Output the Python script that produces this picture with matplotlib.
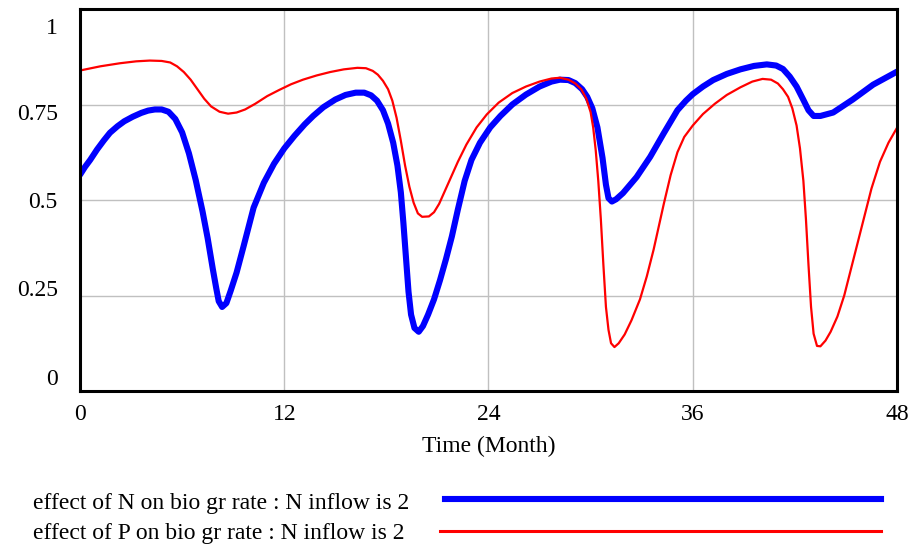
import matplotlib
matplotlib.use("Agg")
import matplotlib.pyplot as plt
from matplotlib.lines import Line2D
from matplotlib.transforms import ScaledTranslation

# effect of N on bio gr rate : N inflow is 2
t_n = [0, 0.3, 0.6, 1.0, 1.4, 1.76, 2.2, 2.6, 3.1, 3.6, 4.0, 4.4, 4.8, 5.2,
       5.6, 6.0, 6.4, 6.8, 7.2, 7.5, 7.8, 8.0, 8.15, 8.35, 8.6, 8.85, 9.2, 9.6,
       10.2, 10.8, 11.4, 12.0, 12.6, 13.2, 13.7, 14.3, 15.0, 15.6, 16.2, 16.7,
       17.1, 17.45, 17.8, 18.1, 18.4, 18.65, 18.85, 19.0, 19.15, 19.3, 19.45,
       19.65, 19.9, 20.15, 20.45, 20.8, 21.15, 21.5, 21.85, 22.2, 22.6, 23.0,
       23.5, 24.1, 24.7, 25.4, 26.2, 27.0, 27.7, 28.2, 28.7, 29.1, 29.5, 29.8,
       30.1, 30.4, 30.7, 30.9, 31.05, 31.25, 31.5, 31.9, 32.7, 33.5, 34.3, 35.1,
       35.6, 36.0, 36.6, 37.2, 38.0, 38.8, 39.6, 40.35, 40.9, 41.3, 41.7, 42.1,
       42.5, 42.8, 43.1, 43.5, 44.25, 45.4, 46.6, 48]
effect_n = [0.566, 0.587, 0.605, 0.632, 0.656, 0.676, 0.693, 0.706, 0.718, 0.728,
            0.734, 0.737, 0.737, 0.731, 0.712, 0.677, 0.622, 0.552, 0.47, 0.40,
            0.32, 0.27, 0.235, 0.22, 0.23, 0.262, 0.31, 0.377, 0.48, 0.545, 0.595,
            0.635, 0.668, 0.698, 0.72, 0.743, 0.763, 0.775, 0.781, 0.781, 0.774,
            0.76, 0.735, 0.70, 0.65, 0.59, 0.52, 0.44, 0.35, 0.26, 0.20, 0.165,
            0.155, 0.17, 0.20, 0.24, 0.29, 0.345, 0.405, 0.475, 0.55, 0.605, 0.65,
            0.69, 0.72, 0.75, 0.776, 0.797, 0.81, 0.815, 0.814, 0.806, 0.79, 0.77,
            0.74, 0.69, 0.61, 0.54, 0.505, 0.496, 0.502, 0.518, 0.56, 0.613, 0.675,
            0.735, 0.76, 0.777, 0.797, 0.814, 0.83, 0.842, 0.851, 0.855, 0.852,
            0.843, 0.823, 0.797, 0.762, 0.735, 0.72, 0.72, 0.729, 0.763, 0.802,
            0.836]

# effect of P on bio gr rate : N inflow is 2
t_p = [0, 1.2, 2.35, 3.3, 4.1, 4.8, 5.3, 5.7, 6.1, 6.5, 6.9, 7.3, 7.7, 8.2, 8.7,
       9.2, 9.7, 10.3, 11.0, 11.7, 12.4, 13.1, 13.9, 14.7, 15.5, 16.3, 16.8,
       17.2, 17.5, 17.8, 18.1, 18.35, 18.6, 18.85, 19.1, 19.35, 19.6, 19.85,
       20.1, 20.5, 20.8, 21.1, 21.4, 21.8, 22.2, 22.7, 23.3, 23.9, 24.6, 25.4,
       26.2, 27.0, 27.7, 28.2, 28.7, 29.1, 29.45, 29.75, 30.0, 30.15, 30.3,
       30.45, 30.6, 30.75, 30.9, 31.05, 31.2, 31.4, 31.65, 32.0, 32.4, 32.9,
       33.3, 33.7, 34.0, 34.3, 34.7, 35.1, 35.5, 36.0, 36.6, 37.3, 38.0, 38.8,
       39.5, 40.1, 40.6, 41.0, 41.3, 41.6, 41.85, 42.1, 42.3, 42.5, 42.65, 42.8,
       42.95, 43.1, 43.3, 43.5, 43.8, 44.1, 44.5, 44.9, 45.3, 45.7, 46.1, 46.5,
       47.0, 47.5, 48]
effect_p = [0.839, 0.85, 0.858, 0.863, 0.865, 0.864, 0.86, 0.85, 0.835, 0.815,
            0.79, 0.765, 0.745, 0.731, 0.726, 0.729, 0.737, 0.752, 0.772, 0.788,
            0.803, 0.815, 0.826, 0.835, 0.842, 0.846, 0.845, 0.838, 0.828, 0.812,
            0.79, 0.76, 0.715, 0.655, 0.59, 0.535, 0.493, 0.465, 0.456, 0.457,
            0.468, 0.49, 0.52, 0.56, 0.60, 0.645, 0.69, 0.724, 0.755, 0.78, 0.797,
            0.81, 0.818, 0.82, 0.815, 0.805, 0.79, 0.765, 0.73, 0.69, 0.63, 0.55,
            0.45, 0.33, 0.22, 0.16, 0.125, 0.115, 0.125, 0.148, 0.185, 0.24, 0.30,
            0.37, 0.43, 0.49, 0.565, 0.625, 0.665, 0.695, 0.725, 0.752, 0.775,
            0.795, 0.81, 0.817, 0.815, 0.805, 0.79, 0.77, 0.74, 0.695, 0.635, 0.55,
            0.45, 0.33, 0.22, 0.15, 0.118, 0.117, 0.132, 0.155, 0.195, 0.25, 0.32,
            0.39, 0.46, 0.53, 0.60, 0.65, 0.689]

series_labels = ["effect of N on bio gr rate : N inflow is 2",
                 "effect of P on bio gr rate : N inflow is 2"]

x_ticks = [0, 12, 24, 36, 48]
y_ticks = [0, 0.25, 0.5, 0.75, 1]
y_tick_labels = ["0", "0.25", "0.5", "0.75", "1"]
# Vensim spreads the y labels evenly, so nudge each one (pixels, + = down)
y_label_shift = [-14, -8, 0, 7, 17]

BLUE = "#0000ff"
RED = "#ff0000"

plt.rcParams["font.family"] = ["Liberation Serif", "DejaVu Serif"]
plt.rcParams["font.size"] = 17

W, H = 912, 546
fig = plt.figure(figsize=(W / 100, H / 100), dpi=100)
ax = fig.add_axes([80 / W, 1 - 391 / H, 817 / W, 382 / H])

ax.plot(t_n, effect_n, color=BLUE, linewidth=4.4,
        solid_joinstyle="round", solid_capstyle="round")
ax.plot(t_p, effect_p, color=RED, linewidth=1.6, solid_joinstyle="round")

ax.set_xlim(0, 48)
ax.set_ylim(0, 1)
ax.set_xticks(x_ticks)
ax.set_yticks(y_ticks)
ax.set_yticklabels(y_tick_labels)
ax.tick_params(length=0)
ax.tick_params(axis="y", pad=16)
ax.tick_params(axis="x", pad=9)
ax.grid(color="#c0c0c0", linewidth=1.0)
ax.set_axisbelow(True)
for sp in ax.spines.values():
    sp.set_linewidth(2.2)
    sp.set_color("black")

for lab, dy in zip(ax.get_yticklabels(), y_label_shift):
    lab.set_transform(lab.get_transform() +
                      ScaledTranslation(0, -dy / 100, fig.dpi_scale_trans))

ax.set_xlabel("Time (Month)", labelpad=8)

# legend, drawn the way Vensim lays it out: label then a long swatch
legend_rows = [(series_labels[0], BLUE, 4.4, 509, 499, 445),
               (series_labels[1], RED, 2.2, 539, 531, 440)]
for text, col, lw, y_text, y_line, x0 in legend_rows:
    fig.text(33 / W, 1 - y_text / H, text, ha="left", va="baseline")
    fig.add_artist(Line2D([x0 / W, 881 / W], [1 - y_line / H, 1 - y_line / H],
                          color=col, linewidth=lw, transform=fig.transFigure))

fig.savefig("out.png", dpi=100)
